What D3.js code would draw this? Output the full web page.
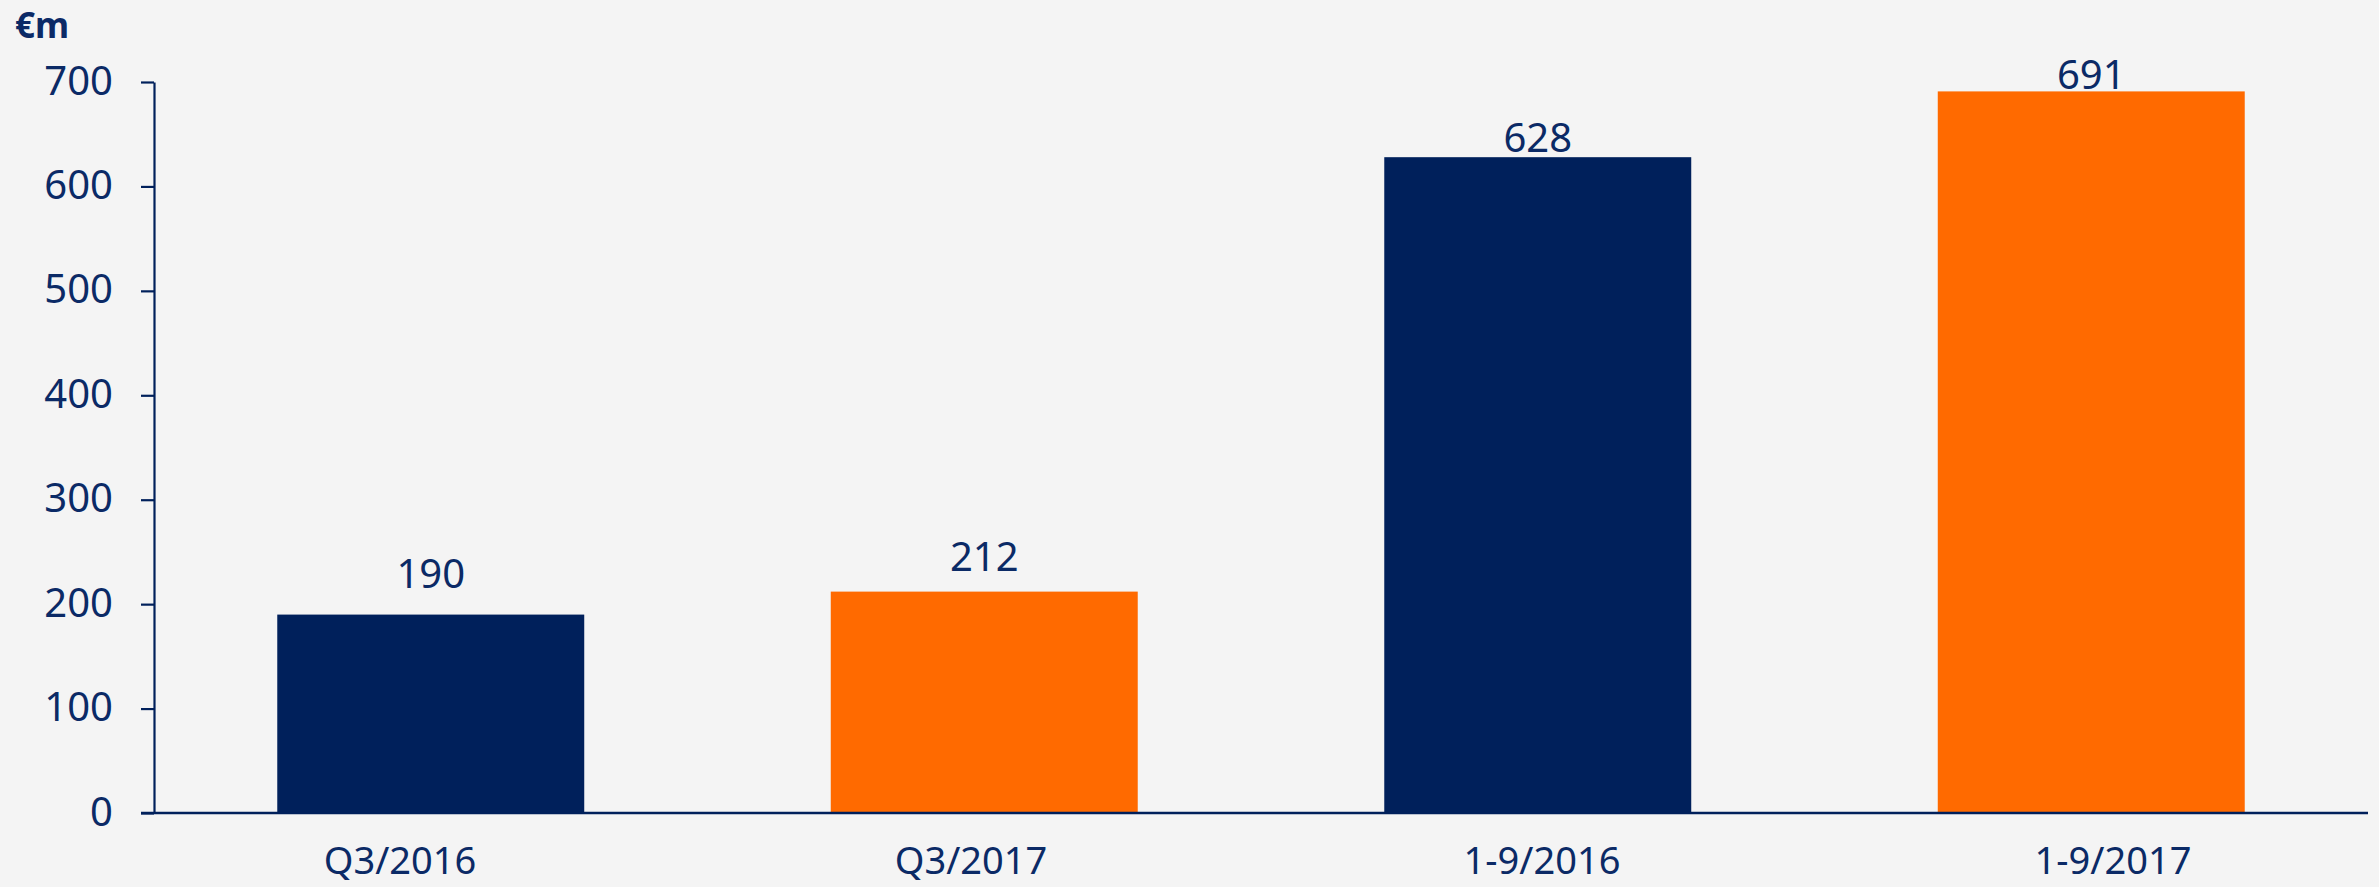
<!DOCTYPE html>
<html>
<head>
<meta charset="utf-8">
<script src="https://cdn.jsdelivr.net/npm/d3@7"></script>
<style>
  html, body { margin: 0; padding: 0; background: #f4f4f4; }
  svg { display: block; }
  text { font-family: "Noto Sans", sans-serif; fill: #0b2a66; }
</style>
</head>
<body>
<svg id="chart" width="2379" height="887"></svg>
<script>
const categories = ["Q3/2016", "Q3/2017", "1-9/2016", "1-9/2017"];
const values = [190, 212, 628, 691];
const barColors = ["#00205b", "#ff6a00", "#00205b", "#ff6a00"];
const yTicks = [0, 100, 200, 300, 400, 500, 600, 700];
const unitLabel = "€m";

const W = 2379, H = 887;
const axisX = 154, axisRight = 2368, baseY = 813, topY = 82;
const navy = "#00205b";

const svg = d3.select("#chart");
svg.append("rect").attr("width", W).attr("height", H).attr("fill", "#f4f4f4");

const y = d3.scaleLinear().domain([0, 700]).range([baseY, topY]);
const x = d3.scaleBand().domain(categories).range([axisX, axisRight])
  .paddingInner(0.4454).paddingOuter(0.2227);
// label positions (the category labels are spread slightly wider than the bars)
const xl = d3.scalePoint().domain(categories).range([400, 2113]);

// bars
svg.append("g").selectAll("rect").data(categories).join("rect")
  .attr("x", d => x(d))
  .attr("width", x.bandwidth())
  .attr("y", (d, i) => y(values[i]))
  .attr("height", (d, i) => baseY - y(values[i]))
  .attr("fill", (d, i) => barColors[i]);

// y axis
const yAxis = d3.axisLeft(y).tickValues(yTicks).tickSize(13).tickPadding(28).tickSizeOuter(0);
const gy = svg.append("g").attr("transform", `translate(${axisX},0)`).call(yAxis);
gy.select(".domain").attr("stroke", navy).attr("stroke-width", 2.2);
gy.selectAll(".tick line").attr("stroke", navy).attr("stroke-width", 2.2);
gy.selectAll(".tick text").style("font-size", "40px").style("font-family", "Noto Sans")
  .attr("fill", "#0b2a66").attr("dy", "0.3em");

// x axis baseline
svg.append("line").attr("x1", 141).attr("x2", axisRight)
  .attr("y1", baseY).attr("y2", baseY)
  .attr("stroke", navy).attr("stroke-width", 2.4);

// x labels
svg.append("g").selectAll("text").data(categories).join("text")
  .attr("x", d => xl(d)).attr("y", 874)
  .attr("text-anchor", "middle")
  .style("font-size", "38px")
  .text(d => d);

// value labels
const labelLift = [27, 21, 5, 2];
svg.append("g").selectAll("text").data(categories).join("text")
  .attr("x", d => x(d) + x.bandwidth() / 2)
  .attr("y", (d, i) => y(values[i]) - labelLift[i])
  .attr("text-anchor", "middle")
  .style("font-size", "40px")
  .text((d, i) => values[i]);

// unit label
svg.append("text").attr("x", 15).attr("y", 38)
  .style("font-size", "35px").style("font-weight", "bold")
  .text(unitLabel);
</script>
</body>
</html>
